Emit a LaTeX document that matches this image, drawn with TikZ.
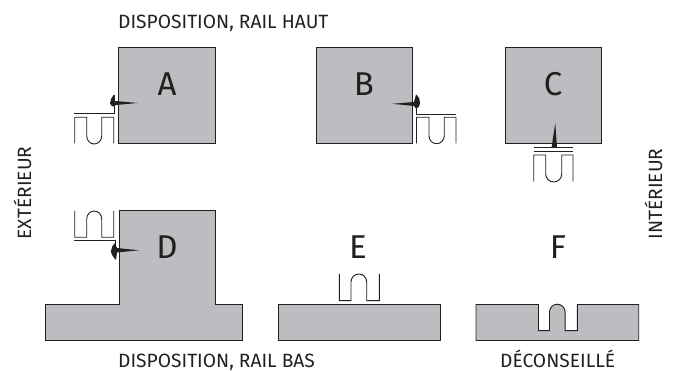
\documentclass[tikz,border=0pt]{standalone}
\usepackage{fontspec}
\setmainfont{Fira Sans}
\definecolor{wallgray}{RGB}{188,189,192}
\definecolor{inkline}{RGB}{35,31,32}
\tikzset{
  x=1pt,y=-1pt,
  wall/.style={draw=inkline,line width=0.9pt,fill=wallgray,line join=miter},
  rail/.style={draw=inkline,line width=0.9pt},
  screwhead/.style={fill=inkline,draw=none},
  smalltext/.style={font=\fontsize{19.2}{22}\selectfont,text=inkline,inner sep=0pt},
  bigtext/.style={font=\fontsize{33}{38}\selectfont,text=inkline,inner sep=0pt},
}
\begin{document}
\begin{tikzpicture}
\useasboundingbox (0,0) rectangle (673,371);
% walls
\draw[wall] (118.5,47) rectangle (215,143.5);
\draw[wall] (316,47) rectangle (412,143.5);
\draw[wall] (505,47) rectangle (601.5,143.5);
\draw[wall] (45,340.5) -- (45,304.5) -- (119.5,304.5) -- (119.5,210.5) -- (215.7,210.5) -- (215.7,304.5) -- (242,304.5) -- (242,340.5) -- cycle;
\draw[wall] (278,304.5) rectangle (440.7,340.5);
\draw[wall] (476,304.5) -- (538.5,304.5) -- (538.5,330.7) -- (549.5,330.7) -- (549.5,312) arc[start angle=180,end angle=360,x radius=7.8,y radius=7.8] -- (565.1,330.7) -- (577.3,330.7) -- (577.3,304.5) -- (638.7,304.5) -- (638.7,340.5) -- (476,340.5) -- cycle;
% rail A
\draw[rail] (74,113.5) -- (114,113.5) -- (114,95);
\draw[rail] (74.7,143.5) -- (74.7,117.3) -- (86.7,117.3) -- (86.7,136) arc[start angle=180,end angle=0,x radius=7.5,y radius=8] -- (101.7,117.3) -- (113.7,117.3) -- (113.7,143.5);
\draw[screwhead] (138,103) -- (116,105) .. controls (113,108) and (111,106) .. (110,103) .. controls (110,100) and (112,97) .. (114,94.5) -- (115,101) -- cycle;
% rail B
\draw[rail] (456,114) -- (416,114) -- (416,95);
\draw[rail] (416.5,143.5) -- (416.5,117.3) -- (429,117.3) -- (429,136) arc[start angle=180,end angle=0,x radius=7.6,y radius=7.7] -- (444.2,117.3) -- (456,117.3) -- (456,143.5);
\draw[screwhead] (392,103.8) -- (414,102) -- (416,94.5) .. controls (419,97) and (420.5,100) .. (420,103.5) .. controls (420,106) and (418,108.5) .. (416,108.5) -- (414,106) -- cycle;
% rail C
\draw[rail] (533.5,147.8) -- (573,147.8);
\draw[rail] (533.5,151.2) -- (573,151.2);
\draw[rail] (533.7,181.7) -- (533.7,155) -- (545.7,155) -- (545.7,174) arc[start angle=180,end angle=0,x radius=8,y radius=8] -- (561.7,155) -- (573,155) -- (573,181.7);
\draw[screwhead] (555.3,123) -- (551.5,147.8) -- (557,147.8) -- cycle;
% rail D
\draw[rail] (74,240.8) -- (115,240.8) -- (115,259);
\draw[rail] (74.7,211) -- (74.7,237.3) -- (86.7,237.3) -- (86.7,219) arc[start angle=180,end angle=360,x radius=7.5,y radius=8] -- (101.7,237.3) -- (113.7,237.3) -- (113.7,211);
\draw[screwhead] (139,250.3) -- (117,248) -- (115,243) .. controls (113,245) and (111,247.5) .. (111,251) .. controls (111,254) and (113,257) .. (116,260) -- (117,252.5) -- cycle;
% rail E
\draw[rail] (339.3,274) -- (339.3,300.7) -- (351,300.7) -- (351,282) arc[start angle=180,end angle=360,x radius=7.85,y radius=8] -- (366.7,300.7) -- (379.3,300.7) -- (379.3,274);
% labels
\node[bigtext] (la) at (167,84) {A};
\node[bigtext] (lb) at (364,84) {B};
\node[bigtext] (lc) at (553,84) {C};
\node[bigtext] (ld) at (167,247) {D};
\node[bigtext] (le) at (358,247) {E};
\node[bigtext] (lf) at (558,247) {F};
\node[smalltext,anchor=base west] (t1) at (118,29) {DISPOSITION, RAIL HAUT};
\node[smalltext,anchor=base west] (t2) at (118,367.3) {DISPOSITION, RAIL BAS};
\node[smalltext,anchor=base west] (t3) at (500,367.3) {DÉCONSEILLÉ};
\node[smalltext,rotate=90,anchor=base] (t4) at (31,193) {EXTÉRIEUR};
\node[smalltext,rotate=90,anchor=base] (t5) at (662,194) {INTÉRIEUR};
\end{tikzpicture}
\end{document}
